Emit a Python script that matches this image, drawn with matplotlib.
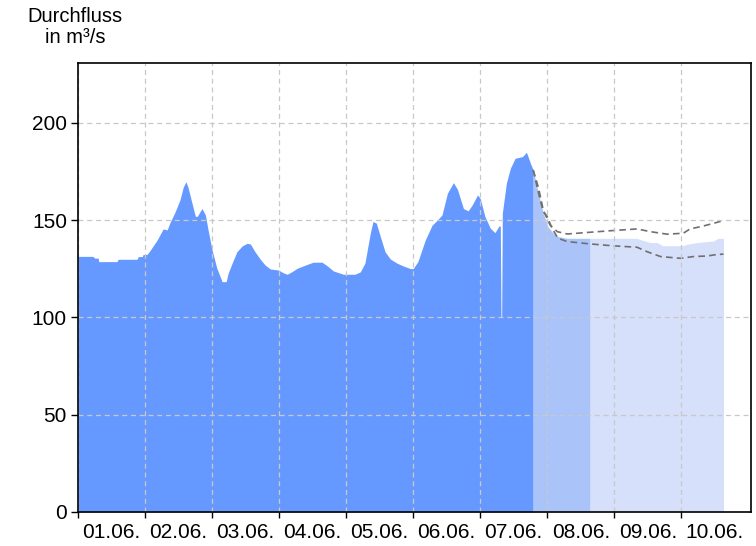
import numpy as np
import matplotlib
matplotlib.use("Agg")
import matplotlib.pyplot as plt

plt.rcParams['font.family'] = ['Liberation Sans', 'DejaVu Sans']

# gemessener Abfluss (Tage ab 01.06. 00:00, m³/s)
obs_t = [0.00, 0.22, 0.25, 0.30, 0.31, 0.58, 0.60, 0.88, 0.90, 0.96, 0.97, 1.03,
         1.08, 1.18, 1.27, 1.33, 1.37, 1.45, 1.52, 1.57, 1.61, 1.64, 1.70, 1.75,
         1.78, 1.82, 1.85, 1.90, 1.94, 2.00, 2.07, 2.15, 2.21, 2.24, 2.30, 2.37,
         2.45, 2.52, 2.57, 2.64, 2.72, 2.79, 2.87, 2.99, 3.06, 3.12, 3.19, 3.27,
         3.42, 3.51, 3.64, 3.72, 3.81, 3.96, 4.13, 4.21, 4.28, 4.36, 4.40, 4.45,
         4.51, 4.58, 4.66, 4.76, 4.85, 4.96, 5.00, 5.07, 5.18, 5.28, 5.36, 5.43,
         5.51, 5.60, 5.66, 5.75, 5.82, 5.88, 5.96, 6.00, 6.07, 6.15, 6.22, 6.28,
         6.30, 6.31, 6.32, 6.33, 6.39, 6.45, 6.52, 6.63, 6.69, 6.75, 6.79]
obs_q = [131.4, 131.4, 130.5, 130.5, 128.7, 128.7, 129.9, 129.9, 131.3, 131.3, 132.4, 132.4,
         134.7, 139.8, 145.5, 145.0, 148.6, 154.4, 160.4, 167.0, 169.8, 167.0, 158.8, 152.0,
         152.0, 154.4, 156.0, 152.7, 145.0, 134.7, 125.4, 118.4, 118.4, 122.8, 128.0, 133.8,
         136.8, 138.1, 137.8, 133.8, 129.9, 127.0, 124.9, 124.4, 123.0, 122.2, 123.5, 125.3,
         127.3, 128.4, 128.4, 126.5, 123.9, 122.2, 122.2, 123.4, 127.9, 143.3, 149.3, 148.5,
         141.6, 133.8, 130.0, 127.9, 126.5, 125.1, 125.1, 128.7, 139.8, 147.3, 150.1, 152.7,
         163.8, 169.3, 165.9, 156.0, 154.8, 157.8, 163.0, 161.2, 151.9, 145.9, 143.6, 147.0,
         147.0, 100.4, 100.4, 153.6, 169.0, 176.7, 181.8, 182.7, 184.9, 179.2, 175.8]

# Vorhersage (Median) und Unsicherheitsbereich
fc_t = [6.79, 6.87, 6.94, 7.01, 7.09, 7.16, 7.30, 7.64, 8.34, 8.39, 8.54, 8.64,
        8.72, 9.03, 9.09, 9.24, 9.48, 9.55, 9.63]
fc_q = [175.8, 163.8, 153.6, 146.7, 143.3, 141.6, 140.7, 140.7, 140.7, 140.0, 138.5, 138.5,
        136.9, 136.9, 137.7, 138.5, 139.3, 140.7, 140.7]
fc_split = 7.64

up_t = [6.79, 6.87, 6.94, 7.04, 7.15, 7.30, 7.64, 7.99, 8.34, 8.54, 8.79, 9.03,
        9.13, 9.33, 9.48, 9.63]
up_q = [175.8, 166.6, 155.3, 147.6, 144.1, 142.9, 143.8, 144.7, 145.5, 144.1, 142.8, 143.3,
        145.5, 147.0, 148.4, 149.8]
lo_t = [6.79, 6.87, 6.94, 7.00, 7.07, 7.16, 7.30, 7.64, 7.99, 8.34, 8.49, 8.69,
        8.99, 9.18, 9.39, 9.48, 9.63]
lo_q = [175.8, 164.0, 154.4, 151.9, 145.9, 140.7, 139.0, 137.8, 136.8, 136.1, 133.8, 131.3,
        130.4, 131.3, 131.6, 132.1, 132.6]

day_labels = ['01.06.', '02.06.', '03.06.', '04.06.', '05.06.',
              '06.06.', '07.06.', '08.06.', '09.06.', '10.06.']

fig = plt.figure(figsize=(7.56, 5.46), dpi=100)
ax = fig.add_axes([0.1032, 0.0623, 0.8902, 0.8223])

ax.fill_between(obs_t, 0, obs_q, color='#6699ff', lw=0)
fc_t = np.array(fc_t)
fc_q = np.array(fc_q)
m1 = fc_t <= fc_split
m2 = fc_t >= fc_split
ax.fill_between(fc_t[m1], 0, fc_q[m1], color='#aac4fa', lw=0)
ax.fill_between(fc_t[m2], 0, fc_q[m2], color='#d6e0fa', lw=0)
ax.plot(up_t, up_q, color='#707070', lw=1.2, dashes=(4, 2.5))
ax.plot(lo_t, lo_q, color='#707070', lw=1.2, dashes=(4, 2.5))

ax.set_xlim(0, 10.04)
ax.set_ylim(0, 230.8)
ax.set_yticks([0, 50, 100, 150, 200])
ax.set_xticks(range(0, 10))
ax.set_xticklabels([])
ax.set_xticks(np.arange(10) + 0.5, minor=True)
ax.set_xticklabels(day_labels, minor=True)
ax.tick_params(axis='x', which='minor', length=0, pad=8, labelsize=15)
ax.tick_params(axis='x', which='major', length=4, width=1)
ax.tick_params(axis='y', length=5, width=1, pad=3, labelsize=15)
ax.grid(True, which='major', color='#c8c8c8', lw=0.9, dashes=(4, 3))
ax.set_axisbelow(False)
for s in ax.spines.values():
    s.set_linewidth(1.2)
    s.set_zorder(5)

fig.text(0.099, 1 - 27 / 546, 'Durchfluss\nin m³/s', ha='center', va='center',
         fontsize=14.5, linespacing=1.15)

fig.savefig('out.png', dpi=100)
